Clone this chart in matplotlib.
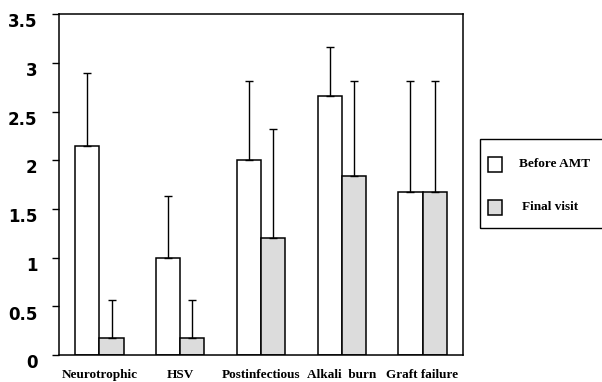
import matplotlib.pyplot as plt
import matplotlib.transforms as mtransforms
import numpy as np
from matplotlib.patches import Rectangle

categories = ["Neurotrophic", "HSV", "Postinfectious", "Alkali  burn", "Graft failure"]
before = [2.15, 1.0, 2.0, 2.66, 1.67]
before_err = [0.75, 0.63, 0.81, 0.50, 1.14]
final = [0.17, 0.17, 1.2, 1.84, 1.67]
final_err = [0.39, 0.39, 1.12, 0.97, 1.14]
series_names = ["Before AMT", "Final visit"]

fig = plt.figure(figsize=(6.02, 3.82), dpi=100)
ax = fig.add_axes([0.098, 0.0707, 0.671, 0.8923])

x = np.arange(len(categories))
w = 0.3
ekw = dict(elinewidth=1, capthick=1, ecolor="black")
ax.bar(x - w / 2, before, w, color="white", edgecolor="black", linewidth=1.1,
       yerr=[np.zeros(len(before)), before_err], capsize=3, error_kw=ekw, zorder=2)
ax.bar(x + w / 2, final, w, color="#dcdcdc", edgecolor="black", linewidth=1.1,
       yerr=[np.zeros(len(final)), final_err], capsize=3, error_kw=ekw, zorder=2)

ax.set_xlim(-0.5, 4.5)
ax.set_ylim(0, 3.5)
ax.set_yticks([0, 0.5, 1, 1.5, 2, 2.5, 3, 3.5])
ax.set_yticklabels(["0", "0.5", "1", "1.5", "2", "2.5", "3", "3.5"],
                   fontfamily="DejaVu Sans", fontweight="bold", fontsize=12)
ax.tick_params(axis="y", length=5, width=1, pad=10.5)
# labels sit a little below their ticks in the original
off = mtransforms.ScaledTranslation(0, -4.5 / 72, fig.dpi_scale_trans)
for lab in ax.get_yticklabels():
    lab.set_transform(lab.get_transform() + off)
ax.set_xticks(x)
ax.set_xticklabels(categories, fontfamily="Liberation Serif", fontweight="bold", fontsize=9.5)
ax.tick_params(axis="x", length=0, pad=10)
for s in ax.spines.values():
    s.set_linewidth(1.1)

# legend box (runs off the right edge in the original)
W, H = 602, 382
def fx(px): return px / W
def fy(py): return 1 - py / H
fig.patches.append(Rectangle((fx(480), fy(228)), fx(140), (228 - 139) / H,
                             transform=fig.transFigure, fill=False, edgecolor="black",
                             linewidth=1, clip_on=False))
for (ty, label, col, tx) in [(157, series_names[0], "white", 519), (200, series_names[1], "#dcdcdc", 522)]:
    fig.patches.append(Rectangle((fx(488), fy(ty + 15)), fx(14), 15 / H,
                                 transform=fig.transFigure, facecolor=col,
                                 edgecolor="black", linewidth=1.1))
    fig.text(fx(tx), fy(ty + 7.5), label, fontfamily="Liberation Serif", fontweight="bold",
             fontsize=9.5, va="center", ha="left")

fig.savefig("out.png", dpi=100)
